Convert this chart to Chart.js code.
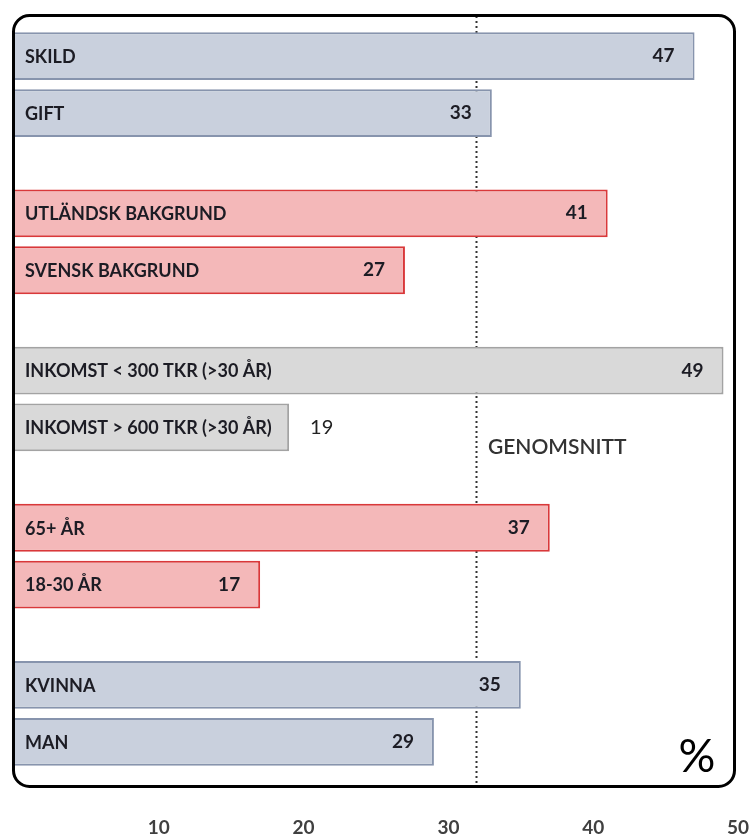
<!DOCTYPE html>
<html>
<head>
<meta charset="utf-8">
<script src="https://cdn.jsdelivr.net/npm/chart.js@4.4.1/dist/chart.umd.min.js"></script>
<style>
  html, body { margin: 0; padding: 0; background: #fff; }
  #wrap { width: 750px; height: 836px; }
</style>
</head>
<body>
<div id="wrap"><canvas id="chart1" width="750" height="836"></canvas></div>
<script>
// groups, top to bottom; each group has an upper and a lower bar
const groups = ['Civilstånd', 'Bakgrund', 'Inkomst', 'Ålder', 'Kön'];
const upperLabels = ['SKILD', 'UTLÄNDSK BAKGRUND', 'INKOMST < 300 TKR (>30 ÅR)', '65+ ÅR', 'KVINNA'];
const lowerLabels = ['GIFT', 'SVENSK BAKGRUND', 'INKOMST > 600 TKR (>30 ÅR)', '18-30 ÅR', 'MAN'];
const upperValues = [47, 41, 49, 37, 35];
const lowerValues = [33, 27, 19, 17, 29];
const average = 31.9;
const xTicks = [10, 20, 30, 40, 50];

const palette = {
  blue: { fill: '#c9d0dd', border: '#8794ad' },
  red:  { fill: '#f4b8b9', border: '#d9383a' },
  grey: { fill: '#d9d9d9', border: '#a3a3a3' },
};
const groupColors = ['blue', 'red', 'grey', 'red', 'blue'];

const FONT = 'Lato, "Open Sans", sans-serif';

document.addEventListener('DOMContentLoaded', () => {
  const ctx = document.getElementById('chart1');

  const dataset = (values, labels) => ({
    data: values,
    barLabels: labels,
    backgroundColor: groupColors.map(c => palette[c].fill),
    borderColor: groupColors.map(c => palette[c].border),
    borderWidth: 2,
    borderSkipped: 'left',
    categoryPercentage: 0.724,
    barPercentage: 0.84,
  });

  // dotted average line, behind the bars
  const averageLine = {
    id: 'averageLine',
    beforeDatasetsDraw(chart) {
      const c = chart.ctx;
      const x = Math.round(chart.scales.x.getPixelForValue(average)) + 0.5;
      c.save();
      c.strokeStyle = '#333';
      c.lineWidth = 2;
      c.setLineDash([2, 3]);
      c.beginPath();
      c.moveTo(x, 16);
      c.lineTo(x, 787);
      c.stroke();
      c.restore();
    }
  };

  // category text inside each bar, value at its end
  const barText = {
    id: 'barText',
    afterDatasetsDraw(chart) {
      const c = chart.ctx;
      c.save();
      c.textBaseline = 'middle';
      chart.data.datasets.forEach((ds, di) => {
        chart.getDatasetMeta(di).data.forEach((bar, i) => {
          c.fillStyle = '#1c1c24';
          c.font = 'bold 18px ' + FONT;
          c.textAlign = 'left';
          c.fillText(ds.barLabels[i], 25, bar.y + 1);
          const label = String(ds.data[i]);
          const w = c.measureText(ds.barLabels[i]).width;
          if (bar.x - bar.base < w + 70) {
            c.font = '20px ' + FONT;
            c.fillStyle = '#222';
            c.fillText(label, bar.x + 21, bar.y);
          } else {
            c.font = 'bold 19px ' + FONT;
            c.textAlign = 'right';
            c.fillText(label, bar.x - 20, bar.y);
          }
        });
      });
      const ax = chart.scales.x.getPixelForValue(average);
      c.font = '600 21px ' + FONT;
      c.fillStyle = '#333';
      c.textAlign = 'left';
      c.fillText('GENOMSNITT', ax + 12, 447);
      c.restore();
    }
  };

  // rounded frame and percent sign
  const frame = {
    id: 'frame',
    afterDraw(chart) {
      const c = chart.ctx;
      c.save();
      c.strokeStyle = '#000';
      c.lineWidth = 3;
      c.beginPath();
      c.roundRect(13.5, 15.5, 721, 771, 16);
      c.stroke();
      c.fillStyle = '#000';
      c.font = '46px ' + FONT;
      c.textAlign = 'center';
      c.textBaseline = 'middle';
      c.fillText('%', 697, 757);
      c.restore();
    }
  };

  new Chart(ctx, {
    type: 'bar',
    data: {
      labels: groups,
      datasets: [dataset(upperValues, upperLabels), dataset(lowerValues, lowerLabels)],
    },
    options: {
      indexAxis: 'y',
      responsive: false,
      animation: false,
      layout: { padding: { top: 6, left: 14, right: 12, bottom: 0 } },
      plugins: { legend: { display: false }, tooltip: { enabled: false } },
      scales: {
        x: {
          min: 0,
          max: 50,
          afterBuildTicks: (axis) => { axis.ticks = xTicks.map(v => ({ value: v })); },
          afterFit: (axis) => {
            axis.height = 44;
            axis.paddingLeft = 0;
            axis.paddingRight = 0;
            axis.paddingTop = 0;
            axis.paddingBottom = 0;
          },
          grid: { display: false },
          border: { display: false },
          ticks: {
            padding: 16,
            maxRotation: 0,
            autoSkip: false,
            color: '#404040',
            font: { family: FONT, size: 19, weight: 'bold' },
          },
        },
        y: { display: false },
      },
    },
    plugins: [averageLine, barText, frame],
  });
});
</script>
</body>
</html>
